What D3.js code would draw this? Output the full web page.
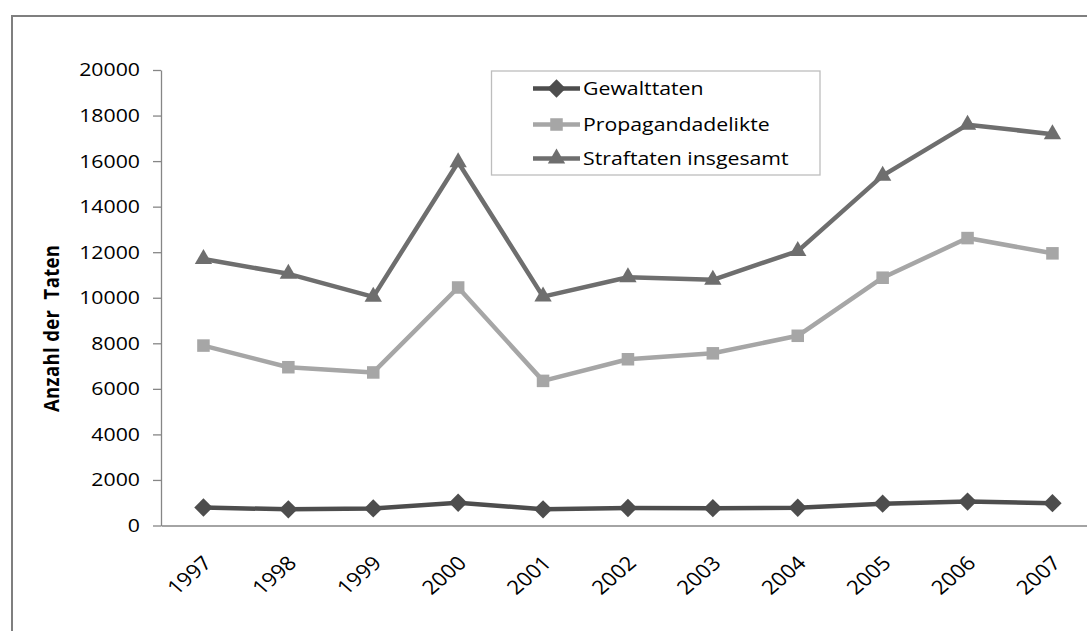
<!DOCTYPE html>
<html>
<head>
<meta charset="utf-8">
<script src="https://cdn.jsdelivr.net/npm/d3@7"></script>
<style>
  html, body { margin: 0; padding: 0; background: #fff; }
  svg { display: block; }
  text { font-family: "Open Sans", "Liberation Sans", sans-serif; }
</style>
</head>
<body>
<svg id="chart" width="1087" height="631"></svg>
<script>
const years = ["1997","1998","1999","2000","2001","2002","2003","2004","2005","2006","2007"];
const gewalttaten = [790, 710, 750, 1000, 710, 770, 760, 780, 960, 1050, 980];
const propagandadelikte = [7900, 6950, 6720, 10450, 6350, 7300, 7560, 8330, 10880, 12620, 11950];
const straftaten = [11700, 11050, 10040, 15950, 10050, 10900, 10790, 12050, 15360, 17600, 17180];
const yTicks = [0, 2000, 4000, 6000, 8000, 10000, 12000, 14000, 16000, 18000, 20000];
const seriesNames = ["Gewalttaten", "Propagandadelikte", "Straftaten insgesamt"];
const yTitle = "Anzahl der\u00A0 Taten";

const series = [
  { name: seriesNames[0], values: gewalttaten, color: "#4d4d4d", symbol: d3.symbolDiamond2 },
  { name: seriesNames[1], values: propagandadelikte, color: "#a6a6a6", symbol: d3.symbolSquare2 },
  { name: seriesNames[2], values: straftaten, color: "#6e6e6e", symbol: d3.symbolTriangle2 }
];

const svg = d3.select("#chart");
const SX = "scale(1.15,1)";

// outer chart border (extends past the picture edge)
svg.append("rect")
  .attr("x", 12).attr("y", 16).attr("width", 1100).attr("height", 640)
  .attr("fill", "none").attr("stroke", "#7f7f7f").attr("stroke-width", 2);

const left = 161, band = 84.9;
const x = d3.scaleBand().domain(years).range([left, left + band * years.length]).padding(0);
const y = d3.scaleLinear().domain([0, 20000]).range([525.5, 70]);
const cx = d => x(d) + x.bandwidth() / 2;

// y axis
const yAxis = svg.append("g")
  .attr("transform", `translate(${left},0)`)
  .call(d3.axisLeft(y).tickValues(yTicks).tickSize(8).tickSizeOuter(0).tickPadding(13).tickFormat(d3.format("d")));
yAxis.select(".domain").attr("stroke", "#868686").attr("stroke-width", 1.3);
yAxis.selectAll(".tick line").attr("stroke", "#868686").attr("stroke-width", 1.3);
yAxis.selectAll(".tick text")
  .attr("fill", "#000").attr("font-size", 18.5)
  .attr("font-family", "'Open Sans', sans-serif")
  .each(function() {
    const t = d3.select(this);
    const xx = +t.attr("x");
    t.attr("x", 0).attr("transform", `translate(${xx},0) ${SX}`);
  });

// x axis
const xAxis = svg.append("g")
  .attr("transform", `translate(0,${y(0)})`)
  .call(d3.axisBottom(x).tickSize(0).tickSizeOuter(0).tickPadding(0));
xAxis.select(".domain").attr("stroke", "#868686").attr("stroke-width", 1.3);
xAxis.selectAll(".tick text")
  .attr("fill", "#000").attr("font-size", 19.5)
  .attr("font-family", "'Open Sans', sans-serif")
  .attr("text-anchor", "end")
  .attr("y", 0).attr("dy", "0.35em")
  .attr("transform", `translate(4,34) ${SX} rotate(-45)`);

// y title
svg.append("text")
  .attr("transform", `translate(59,328.5) ${SX} rotate(-90)`)
  .attr("text-anchor", "middle")
  .attr("font-size", 18.5).attr("font-weight", "bold")
  .attr("fill", "#000")
  .attr("textLength", 167).attr("lengthAdjust", "spacing")
  .style("white-space", "pre")
  .text(yTitle);

// lines and markers
const line = d3.line().x((v, i) => cx(years[i])).y(v => y(v));
const drawOrder = [series[1], series[2], series[0]];
drawOrder.forEach(s => {
  svg.append("path")
    .attr("d", line(s.values))
    .attr("fill", "none").attr("stroke", s.color).attr("stroke-width", 4.5)
    .attr("stroke-linejoin", "round");
  svg.selectAll(null).data(s.values).enter().append("path")
    .attr("transform", (v, i) => `translate(${cx(years[i])},${y(v)})`)
    .attr("d", d3.symbol().type(s.symbol).size(s.symbol === d3.symbolSquare2 ? 200 : 215))
    .attr("fill", s.color);
});

// legend
const lg = svg.append("g");
lg.append("rect").attr("x", 491.5).attr("y", 71).attr("width", 328.5).attr("height", 104)
  .attr("fill", "#fff").attr("stroke", "#bdbdbd").attr("stroke-width", 1.3);
const rowsY = [88.5, 124.5, 158.5];
series.forEach((s, i) => {
  const gy = rowsY[i];
  lg.append("line").attr("x1", 533).attr("x2", 580).attr("y1", gy).attr("y2", gy)
    .attr("stroke", s.color).attr("stroke-width", 4.5);
  lg.append("path").attr("transform", `translate(556.5,${gy})`)
    .attr("d", d3.symbol().type(s.symbol).size(s.symbol === d3.symbolSquare2 ? 200 : 215))
    .attr("fill", s.color);
  lg.append("text").attr("transform", `translate(583,${gy}) ${SX}`)
    .attr("dy", "0.36em").attr("font-size", 18.5).attr("fill", "#000")
    .text(s.name);
});
</script>
</body>
</html>
